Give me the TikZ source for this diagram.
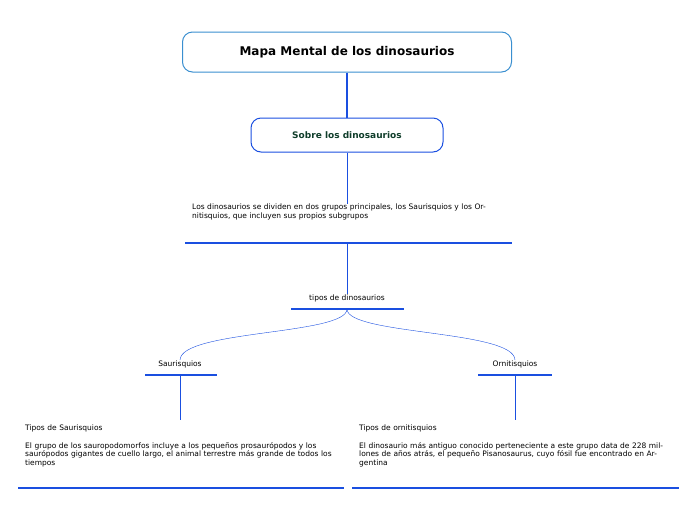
\documentclass[tikz,border=0pt]{standalone}
\usepackage{fontspec}
\setmainfont{DejaVu Sans}
\usetikzlibrary{positioning}
\definecolor{lineblue}{HTML}{1A4FE0}
\definecolor{titleblue}{HTML}{3A8FD0}
\definecolor{darkgreen}{HTML}{0F3D2A}
\tikzset{
    topic/.style={draw=lineblue, line width=1pt, rounded corners=10pt, align=center},
    under/.style={draw=lineblue, line width=1.5pt},
    txt/.style={font=\fontsize{7.5pt}{8.6pt}\selectfont, align=left, inner sep=0pt},
    link/.style={draw=lineblue, line width=0.4pt}
}
\begin{document}
\begin{tikzpicture}[x=1pt,y=-1pt]
    \useasboundingbox (0,0) rectangle (696,520);

                \node[topic, draw=titleblue, minimum width=329pt, minimum height=40pt, font=\bfseries\fontsize{12pt}{14pt}\selectfont] (T) at (347,52) {Mapa Mental de los dinosaurios};
                \node[topic, minimum width=192pt, minimum height=34pt, text=darkgreen, font=\bfseries\fontsize{9pt}{11pt}\selectfont] (S) at (347,135) {Sobre los dinosaurios};

                \node[txt, anchor=north west, text width=300pt] (D) at (192,204) {Los dinosaurios se dividen en dos grupos principales, los Saurisquios y los Ornitisquios, que incluyen sus propios subgrupos};
                \node[txt] (G) at (347,298) {tipos de dinosaurios};
                \node[txt] (SA) at (180,364) {Saurisquios};
                \node[txt] (OR) at (515,364) {Ornitisquios};
                \node[txt, anchor=north west, text width=310pt] (ST) at (25,425) {Tipos de Saurisquios\\[\baselineskip]El grupo de los sauropodomorfos incluye a los pequeños prosaurópodos y los saurópodos gigantes de cuello largo, el animal terrestre más grande de todos los tiempos};
                \node[txt, anchor=north west, text width=320pt] (OT) at (359,425) {Tipos de ornitisquios\\[\baselineskip]El dinosaurio más antiguo conocido perteneciente a este grupo data de 228 millones de años atrás, el pequeño Pisanosaurus, cuyo fósil fue encontrado en Argentina};

                \coordinate (Du) at (347,243);
                \coordinate (Gu) at (347,309);
                \coordinate (SAu) at (180,375);
                \coordinate (ORu) at (515,375);

                \draw[under] (185,243) -- (512,243);
                \draw[under] (291,309) -- (404,309);
                \draw[under] (145,375) -- (217,375);
                \draw[under] (478,375) -- (552,375);
                \draw[under] (18,488) -- (344,488);
                \draw[under] (352,488) -- (679,488);

                \draw[draw=lineblue, line width=1.5pt] (T) -- (S);
                \draw[link] (S) -- (D.north -| S);
                \draw[link] (Du) -- (G.north);
                \draw[link] (Gu) .. controls (347,335) and (180,330) .. (SA.north);
                \draw[link] (Gu) .. controls (347,335) and (515,330) .. (OR.north);
                \draw[link] (SAu) -- (180,420);
                \draw[link] (ORu) -- (515,420);

\end{tikzpicture}
\end{document}
